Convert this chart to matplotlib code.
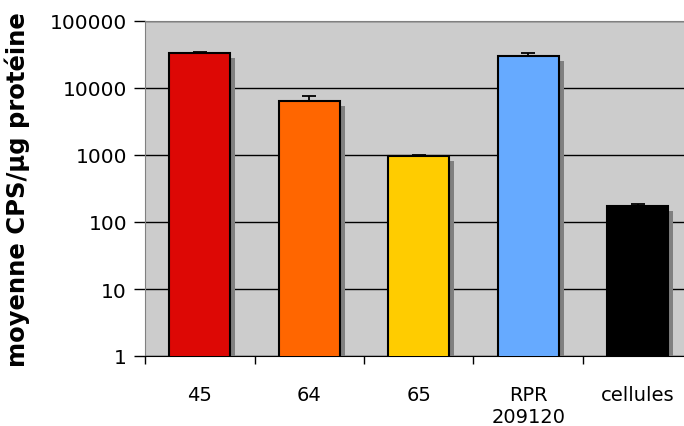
import numpy as np
import matplotlib.pyplot as plt
from matplotlib import patheffects as pe
from matplotlib.ticker import FixedLocator, NullFormatter

categories = ["45", "64", "65", "RPR\n209120", "cellules"]
values = [33000, 6400, 970, 30000, 172]
errors = [1200, 1200, 40, 3000, 12]
colors = ["#dd0805", "#ff6600", "#ffcc00", "#66aaff", "#000000"]
yticks = [1, 10, 100, 1000, 10000, 100000]

fig = plt.figure(figsize=(6.84, 4.27), dpi=100)
ax = fig.add_axes([145 / 684, 1 - 357 / 427, 547.5 / 684, 335 / 427])
ax.set_facecolor("#cccccc")

x = np.arange(len(categories))
shadow = [pe.SimplePatchShadow(offset=(3.5, -3.5), shadow_rgbFace="#808080", alpha=1.0), pe.Normal()]
bars = ax.bar(x, values, width=0.56, color=colors, edgecolor="black", linewidth=1.5,
              zorder=3, path_effects=shadow)
ax.errorbar(x, values, yerr=[np.zeros(len(errors)), errors], fmt="none", ecolor="black",
            elinewidth=1.3, capsize=5, capthick=1.3, zorder=4)

ax.set_yscale("log")
ax.set_ylim(1, 100000)
ax.set_xlim(-0.5, len(categories) - 0.5)
ax.yaxis.set_major_locator(FixedLocator(yticks))
ax.set_yticklabels([str(v) for v in yticks])
ax.yaxis.set_minor_locator(FixedLocator([]))
ax.grid(axis="y", which="major", color="black", linewidth=1.0, zorder=1)
ax.set_axisbelow(True)

ax.set_xticks(x)
ax.set_xticklabels(categories, fontsize=14, linespacing=1.2)
ax.tick_params(axis="x", which="major", length=0, pad=21)
ax.xaxis.set_minor_locator(FixedLocator(np.arange(len(categories) + 1) - 0.5))
ax.xaxis.set_minor_formatter(NullFormatter())
ax.tick_params(axis="x", which="minor", length=6, width=1, color="black")
ax.tick_params(axis="y", which="major", length=8, width=1, labelsize=14.5, pad=5)

for side in ["top", "right", "left"]:
    ax.spines[side].set_color("#808080")
ax.spines["bottom"].set_color("black")

ax.set_ylabel("moyenne CPS/µg protéine", fontsize=17.5, fontweight="bold", labelpad=14)

fig.savefig("out.png", dpi=100)
